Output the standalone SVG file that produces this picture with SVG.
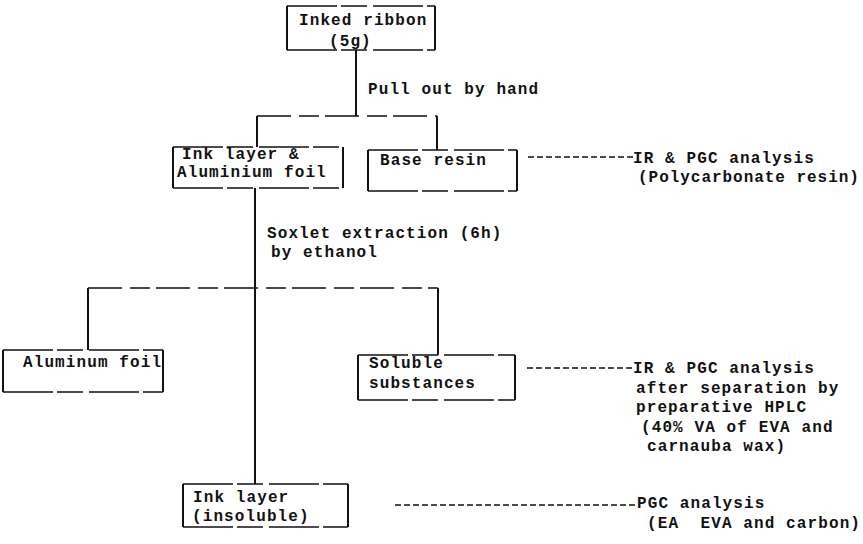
<svg xmlns="http://www.w3.org/2000/svg" width="863" height="544" viewBox="0 0 863 544">
<style>
  .t { font-family: "Liberation Mono", "Courier New", monospace; font-weight: bold; font-size: 16px; letter-spacing: 1.1px; fill: #111; white-space: pre; }
  .side { stroke: #111; stroke-width: 2; fill: none; }
  .edge { stroke: #111; stroke-width: 1.6; fill: none; stroke-dasharray: 50 4 26 6; }
  .line { stroke: #111; stroke-width: 2; fill: none; }
  .branch { stroke: #111; stroke-width: 1.6; fill: none; stroke-dasharray: 34 8 20 6; }
  .dash { stroke: #111; stroke-width: 1.6; fill: none; stroke-dasharray: 6 3; }
</style>
<rect width="863" height="544" fill="#fff"/>

<g id="connectors">
  <path class="line" d="M356 50 V116"/>
  <path class="branch" d="M257 116 H437"/>
  <path class="line" d="M257 116 V147 M437 116 V150"/>
  <path class="line" d="M255 188 V484"/>
  <path class="branch" d="M88 288 H438"/>
  <path class="line" d="M88 288 V350 M438 288 V355"/>
  <path class="dash" d="M528 157 H633"/>
  <path class="dash" d="M527 368 H633"/>
  <path class="dash" d="M395 505 H637"/>
</g>

<g id="inked-ribbon">
  <path class="side" d="M287 6 V50 M435 6 V50"/>
  <path class="edge" d="M287 6 H435 M287 50 H435"/>
  <text class="t" x="299" y="25">Inked ribbon</text>
  <text class="t" x="329" y="46">(5g)</text>
</g>
<text class="t" x="368" y="94">Pull out by hand</text>

<g id="ink-aluminium">
  <path class="side" d="M173 147 V188 M343 147 V188"/>
  <path class="edge" d="M173 147 H343 M173 188 H343"/>
  <text class="t" x="182" y="159">Ink layer &amp;</text>
  <text class="t" x="177" y="177">Aluminium foil</text>
</g>

<g id="base-resin">
  <path class="side" d="M368 150 V191 M517 150 V191"/>
  <path class="edge" d="M368 150 H517 M368 191 H517"/>
  <text class="t" x="380" y="165">Base resin</text>
</g>

<g id="analysis-1">
  <text class="t" x="633" y="163">IR &amp; PGC analysis</text>
  <text class="t" x="638" y="182" textLength="222" lengthAdjust="spacing">(Polycarbonate resin)</text>
</g>

<text class="t" x="267" y="238">Soxlet extraction (6h)</text>
<text class="t" x="271" y="257">by ethanol</text>

<g id="aluminum-foil">
  <path class="side" d="M3 350 V392 M163 350 V392"/>
  <path class="edge" d="M3 350 H163 M3 392 H163"/>
  <text class="t" x="23" y="367">Aluminum foil</text>
</g>

<g id="soluble">
  <path class="side" d="M358 355 V400 M515 355 V400"/>
  <path class="edge" d="M358 355 H515 M358 400 H515"/>
  <text class="t" x="369" y="368">Soluble</text>
  <text class="t" x="369" y="388">substances</text>
</g>

<g id="analysis-2">
  <text class="t" x="633" y="373">IR &amp; PGC analysis</text>
  <text class="t" x="636" y="393">after separation by</text>
  <text class="t" x="636" y="412">preparative HPLC</text>
  <text class="t" x="641" y="432">(40% VA of EVA and</text>
  <text class="t" x="647" y="451">carnauba wax)</text>
</g>

<g id="ink-insoluble">
  <path class="side" d="M183 484 V527 M348 484 V527"/>
  <path class="edge" d="M183 484 H348 M183 527 H348"/>
  <text class="t" x="193" y="502">Ink layer</text>
  <text class="t" x="192" y="521">(insoluble)</text>
</g>

<g id="analysis-3">
  <text class="t" x="637" y="508">PGC analysis</text>
  <text class="t" x="647" y="528">(EA  EVA and carbon)</text>
</g>
</svg>
